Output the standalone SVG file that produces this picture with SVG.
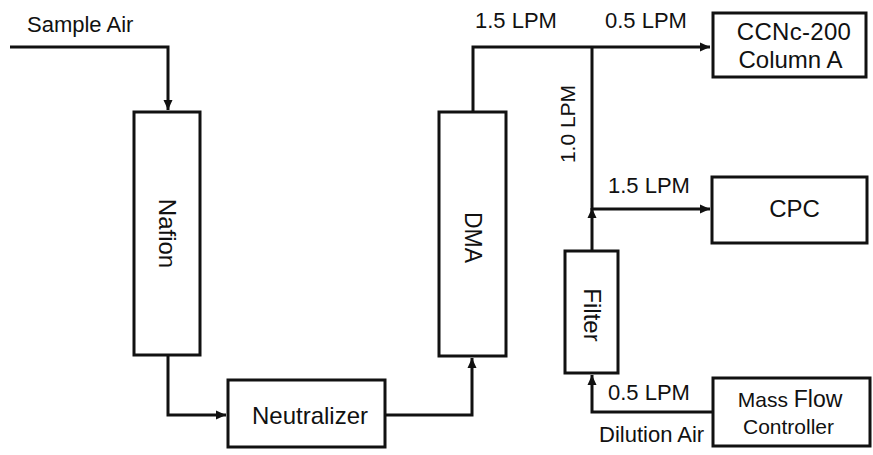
<svg xmlns="http://www.w3.org/2000/svg" width="873" height="455" viewBox="0 0 873 455">
<style>
.box{fill:#fff;stroke:#111;stroke-width:3}
.ln{fill:none;stroke:#111;stroke-width:3}
text{font-family:"Liberation Sans",Arial,sans-serif;font-size:24px;fill:#111}
.lb{font-size:22px}
.c{text-anchor:middle}
.m{dominant-baseline:central}
</style>
<defs>
<marker id="ah" markerUnits="userSpaceOnUse" markerWidth="12" markerHeight="10" refX="10" refY="5" orient="auto">
<path d="M0,0.5 L10,5 L0,9.5 Z" fill="#111"/>
</marker>
</defs>
<g id="connectors">
<path class="ln" d="M10,47 H168 V110" marker-end="url(#ah)"/>
<path class="ln" d="M168,355 V415 H226" marker-end="url(#ah)"/>
<path class="ln" d="M385,415 H472 V358" marker-end="url(#ah)"/>
<path class="ln" d="M473,112 V47 H710" marker-end="url(#ah)"/>
<path class="ln" d="M592,47 V209 H710" marker-end="url(#ah)"/>
<path class="ln" d="M592,251 V208" marker-end="url(#ah)"/>
<path class="ln" d="M713,412 H592 V375" marker-end="url(#ah)"/>
<text class="lb" x="27" y="32">Sample Air</text>
<text class="lb" x="475" y="28">1.5 LPM</text>
<text class="lb" x="605" y="28">0.5 LPM</text>
<text class="lb c m" transform="translate(567,124) rotate(-90)" style="font-size:21px">1.0 LPM</text>
<text class="lb" x="608" y="193">1.5 LPM</text>
<text class="lb" x="608" y="400">0.5 LPM</text>
<text class="lb" x="599" y="442">Dilution Air</text>
</g>
<g id="nafion">
<rect class="box" x="134" y="112" width="66" height="243"/>
<text class="c m" transform="translate(167,233.5) rotate(90)">Nafion</text>
</g>
<g id="neutralizer">
<rect class="box" x="228" y="380" width="157" height="67"/>
<text class="c" x="310" y="424">Neutralizer</text>
</g>
<g id="dma">
<rect class="box" x="439" y="112" width="67" height="244"/>
<text class="c m" transform="translate(472.5,237.5) rotate(90)" style="font-size:23px">DMA</text>
</g>
<g id="ccnc">
<rect class="box" x="713" y="13" width="153" height="64"/>
<text class="c" x="794" y="40" style="letter-spacing:0.3px">CCNc-200</text>
<text class="c" x="790.5" y="68">Column A</text>
</g>
<g id="cpc">
<rect class="box" x="712" y="177" width="155" height="66"/>
<text class="c" x="794.5" y="217">CPC</text>
</g>
<g id="filter">
<rect class="box" x="565" y="251" width="53" height="122"/>
<text class="c m" transform="translate(592,315) rotate(90)">Filter</text>
</g>
<g id="mfc">
<rect class="box" x="713" y="378" width="157" height="68"/>
<text class="c" x="790" y="407"><tspan style="font-size:21px">Mass </tspan><tspan style="font-size:23px">Flow</tspan></text>
<text class="c" x="788.5" y="434" style="font-size:21px">Controller</text>
</g>
</svg>
